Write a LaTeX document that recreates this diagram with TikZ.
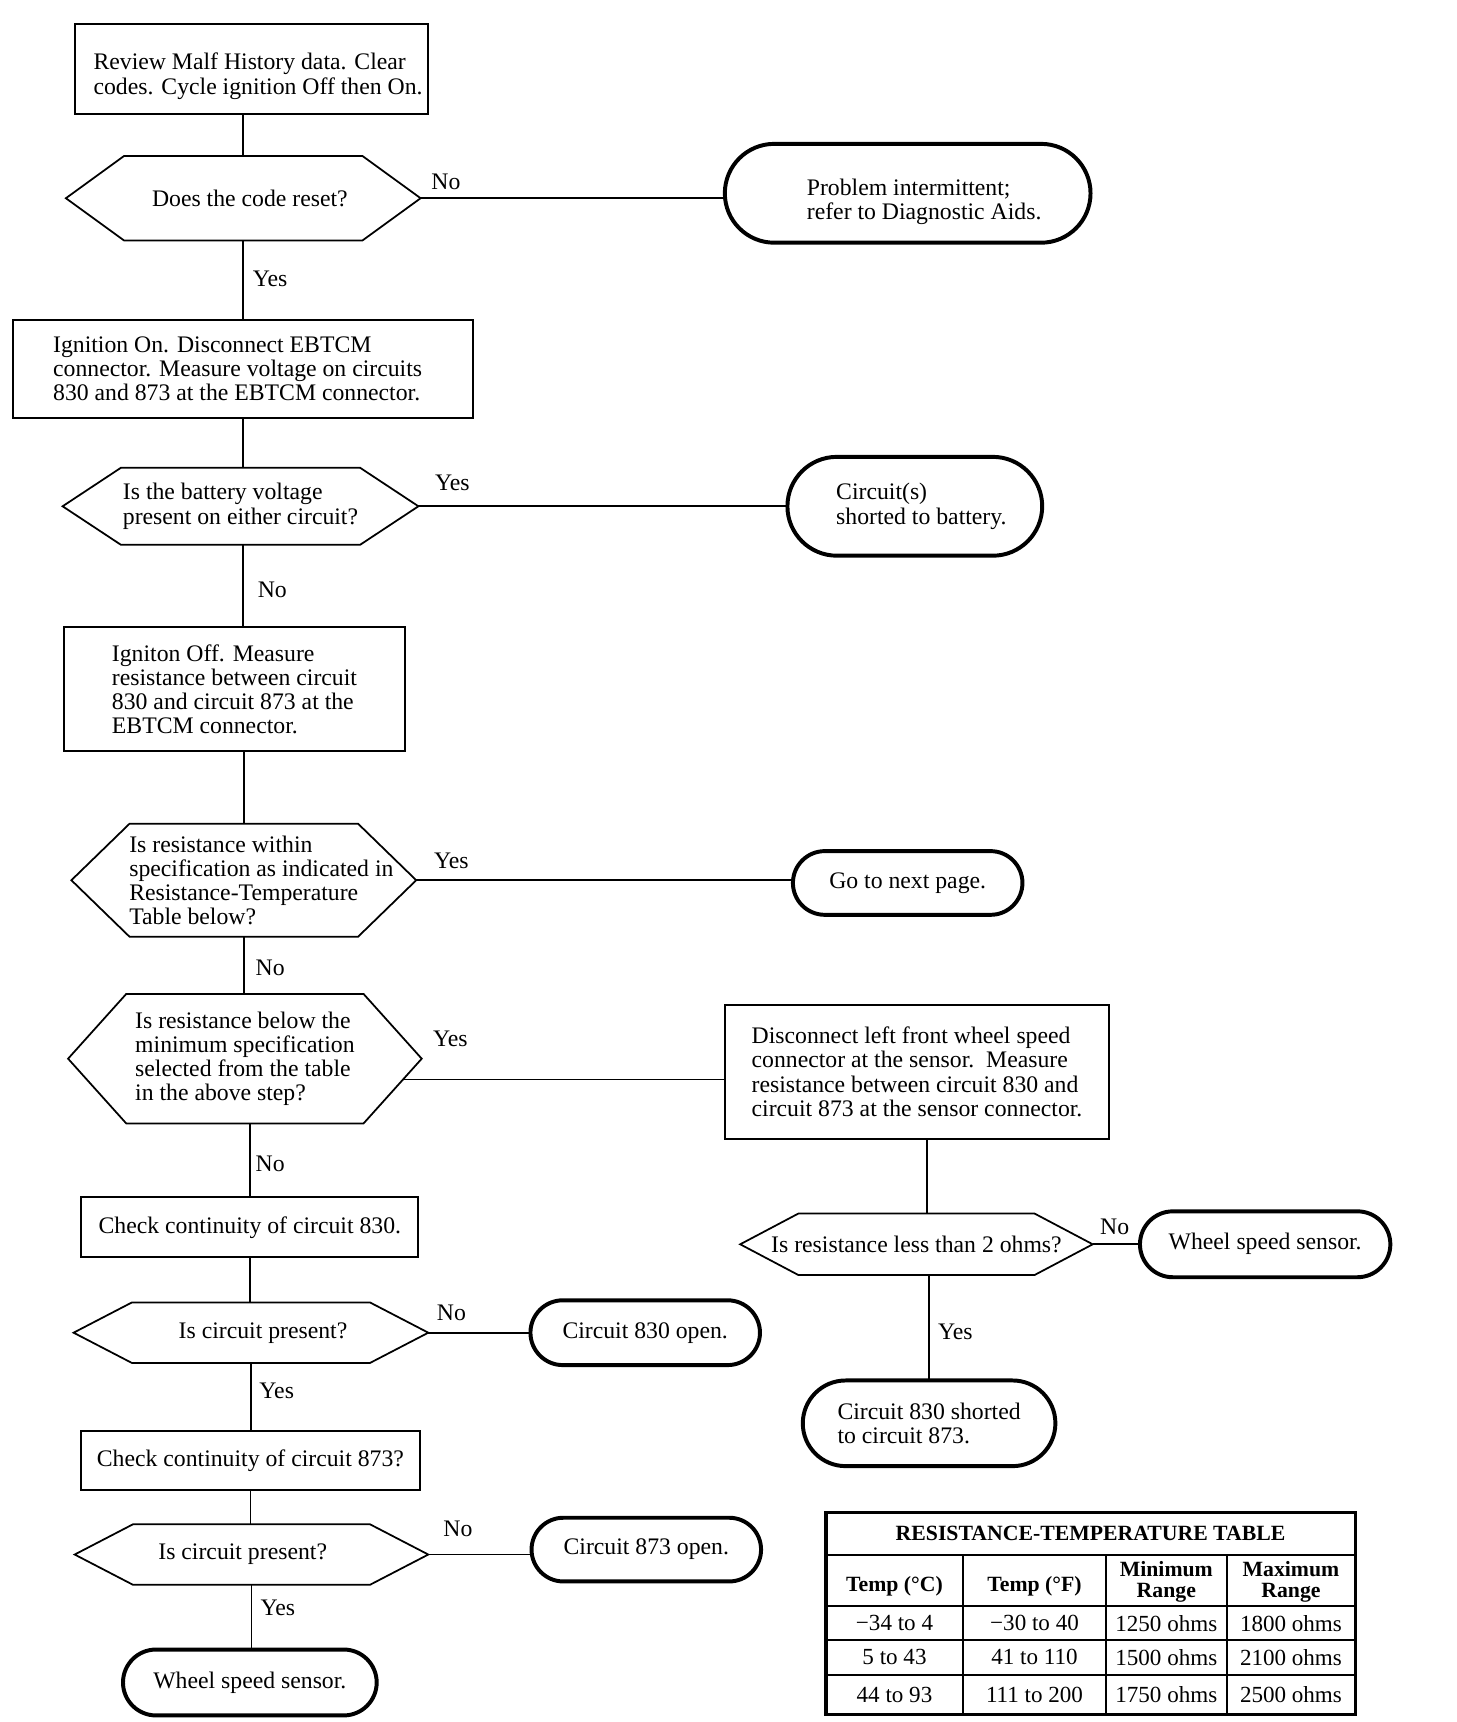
\documentclass[tikz,border=0pt]{standalone}
\usepackage{fontspec}
\setmainfont{Liberation Serif}
\usetikzlibrary{shapes.misc}

\tikzset{
  every node/.style={inner sep=0pt, outer sep=0pt, font=\fontsize{21.6}{22}\selectfont},
  box/.style={draw, line width=1.8pt, align=left},
  decision/.style={align=left},
  stop/.style={draw, rounded rectangle, line width=3.6pt, align=left},
  link/.style={line width=1.6pt},
  tbold/.style={font=\fontsize{19.8}{19}\selectfont\bfseries, align=center},
  tcell/.style={font=\fontsize{21}{22}\selectfont}
}

\begin{document}
\begin{tikzpicture}[x=1pt, y=-1pt]
  \useasboundingbox (0,0) rectangle (1326,1568);

  % main column
  \node[box, minimum width=322, minimum height=82] (review) at (229,63) {\rule{0pt}{28pt}\hspace*{12pt}Review Malf History data. Clear\\\hspace*{12pt}codes. Cycle ignition Off then On.};
  \node[decision, minimum width=323, minimum height=77] (reset) at (221.5,180.5) {\hspace*{12pt}Does the code reset?};
  \node[box, minimum width=419, minimum height=90] (ignon) at (221.5,336) {Ignition On. Disconnect EBTCM\hspace*{12pt}\\connector. Measure voltage on circuits\hspace*{12pt}\\830 and 873 at the EBTCM connector.\hspace*{12pt}};
  \node[decision, minimum width=324, minimum height=70] (battery) at (219,461) {Is the battery voltage\\present on either circuit?};
  \node[box, minimum width=311, minimum height=113] (ignoff) at (213.5,627.5) {Igniton Off. Measure\hspace*{14pt}\\resistance between circuit\hspace*{14pt}\\830 and circuit 873 at the\hspace*{14pt}\\EBTCM connector.\hspace*{14pt}};
  \node[decision, minimum width=314, minimum height=103] (within) at (222,801.5) {\hspace*{32pt}Is resistance within\\\hspace*{32pt}specification as indicated in\\\hspace*{32pt}Resistance-Temperature\\\hspace*{32pt}Table below?};
  \node[decision, minimum width=322, minimum height=118] (below) at (223,964) {Is resistance below the\\minimum specification\\selected from the table\\in the above step?};
  \node[box, minimum width=307, minimum height=55] (cont830) at (227.5,1117.5) {Check continuity of circuit 830.};
  \node[decision, minimum width=323, minimum height=55] (present1) at (228.5,1213.5) {\hspace*{22pt}Is circuit present?};
  \node[box, minimum width=308, minimum height=54] (cont873) at (228,1330) {Check continuity of circuit 873?};
  \node[decision, minimum width=322, minimum height=55] (present2) at (229,1415.5) {Is circuit present?\hspace*{16pt}};
  \node[stop, minimum width=231, minimum height=60] (wss2) at (227.5,1532) {Wheel speed sensor.};

  % results and right branch
  \node[stop, minimum width=333, minimum height=90] (intermit) at (826.5,176) {\rule{0pt}{30pt}\hspace*{30pt}Problem intermittent;\\\hspace*{30pt}refer to Diagnostic Aids.};
  \node[stop, minimum width=232, minimum height=90] (shortbat) at (833,461) {\hspace*{12pt}Circuit(s)\\\hspace*{12pt}shorted to battery.};
  \node[stop, minimum width=209, minimum height=58] (nextpage) at (826.5,804) {Go to next page.};
  \node[box, minimum width=350, minimum height=122] (disconnect) at (835,976) {Disconnect left front wheel speed\\connector at the sensor.\ \ Measure\\resistance between circuit 830 and\\circuit 873 at the sensor connector.};
  \node[decision, minimum width=321, minimum height=56] (less2) at (834.5,1133) {Is resistance less than 2 ohms?};
  \node[stop, minimum width=228, minimum height=60] (wss1) at (1152,1133) {Wheel speed sensor.};
  \node[stop, minimum width=230, minimum height=78] (short873) at (846,1296) {Circuit 830 shorted\\to circuit 873.};
  \node[stop, minimum width=209, minimum height=59] (open830) at (587.5,1213.5) {Circuit 830 open.};
  \node[stop, minimum width=209, minimum height=58] (open873) at (588.5,1411) {Circuit 873 open.};

  % hexagons round the questions
  \foreach \h in {reset,battery,within,below,less2,present1,present2}
    \draw[link] (\h.west) -- ([xshift=53pt]\h.north west) -- ([xshift=-53pt]\h.north east)
      -- (\h.east) -- ([xshift=-53pt]\h.south east) -- ([xshift=53pt]\h.south west) -- cycle;

  % connectors
  \draw[link] (reset.north |- review.south) -- (reset.north);
  \draw[link] (reset.east) -- (reset.east -| intermit.west);
  \draw[link] (reset.south) -- (ignon.north);
  \draw[link] (ignon.south) -- (ignon.south |- battery.north);
  \draw[link] (battery.east) -- (battery.east -| shortbat.west);
  \draw[link] (ignon.south |- battery.south) -- (ignon.south |- ignoff.north);
  \draw[link] (within.north |- ignoff.south) -- (within.north);
  \draw[link] (within.east) -- (within.east -| nextpage.west);
  \draw[link] (within.south) -- (within.south |- below.north);
  \draw[link] ([xshift=-17pt,yshift=-19pt]below.east) -- ([yshift=-7pt]disconnect.west);
  \draw[link] ([xshift=9pt]disconnect.south) -- ([xshift=9pt]disconnect.south |- less2.north);
  \draw[link] (less2.east) -- (wss1.west);
  \draw[link] (short873.north |- less2.south) -- (short873.north);
  \draw[link] (cont830.north |- below.south) -- (cont830.north);
  \draw[link] (cont830.south) -- (cont830.south |- present1.north);
  \draw[link] (present1.east) -- (present1.east -| open830.west);
  \draw[link] (present1.south) -- (present1.south |- cont873.north);
  \draw[link] (cont873.south) -- (cont873.south |- present2.north);
  \draw[link] (present2.east) -- (present2.east -| open873.west);
  \draw[link] (present2.south) -- (present2.south |- wss2.north);

  % answers
  \node (no1) at (406,166) {No};
  \node (yes1) at (246,254) {Yes};
  \node (yes2) at (412,440) {Yes};
  \node (no2) at (248,537) {No};
  \node (yes3) at (411,784) {Yes};
  \node (no3) at (246,881) {No};
  \node (yes4) at (410,946) {Yes};
  \node (no4) at (1015,1117) {No};
  \node (yes5) at (870,1213) {Yes};
  \node (no5) at (246,1060) {No};
  \node (no6) at (411,1195) {No};
  \node (yes6) at (252,1266) {Yes};
  \node (no7) at (417,1392) {No};
  \node (yes7) at (253,1464) {Yes};

  % resistance-temperature table
  \draw[line width=3pt] (752,1377) rectangle (1234,1561);
  \draw[line width=2pt] (752,1416) -- (1234,1416);
  \foreach \y in {1462,1493,1525}
    \draw[line width=2pt] (752,\y) -- (1234,\y);
  \foreach \x in {877,1007,1117}
    \draw[line width=2pt] (\x,1416) -- (\x,1561);
  \node[tbold] (ttitle) at (993,1396) {RESISTANCE-TEMPERATURE TABLE};
  \node[tbold] (hcel) at (814.5,1444) {Temp (°C)};
  \node[tbold] (hfah) at (942,1444) {Temp (°F)};
  \node[tbold] (hmin) at (1062,1440) {Minimum\\Range};
  \node[tbold] (hmax) at (1175.5,1440) {Maximum\\Range};
  \foreach \tc/\tf/\rmin/\rmax/\y [count=\i] in {−34 to 4/−30 to 40/1250 ohms/1800 ohms/1478,
      5 to 43/41 to 110/1500 ohms/2100 ohms/1509, 44 to 93/111 to 200/1750 ohms/2500 ohms/1543} {
    \node[tcell] (tc\i) at (814.5,\y) {\tc};
    \node[tcell] (tf\i) at (942,\y) {\tf};
    \node[tcell] (rmin\i) at (1062,\y) {\rmin};
    \node[tcell] (rmax\i) at (1175.5,\y) {\rmax};
  }
\end{tikzpicture}
\end{document}
